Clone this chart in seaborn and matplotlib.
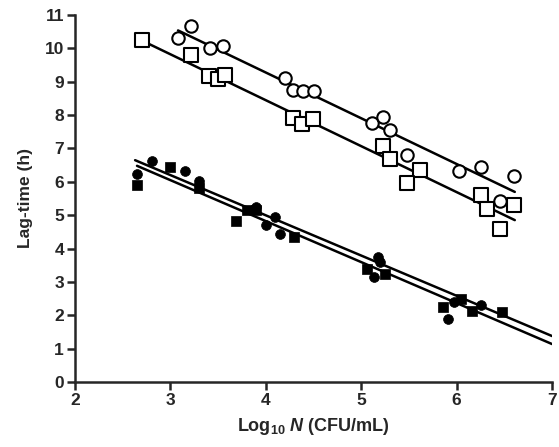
import numpy as np
import pandas as pd
import matplotlib
matplotlib.use("Agg")
import matplotlib.pyplot as plt
import seaborn as sns

# ---- data ----
open_circle_x = [3.08, 3.22, 3.41, 3.55, 4.20, 4.28, 4.39, 4.50, 5.11, 5.23, 5.30, 5.48, 6.03, 6.26, 6.60, 6.46]
open_circle_y = [10.30, 10.66, 10.02, 10.07, 9.12, 8.74, 8.72, 8.72, 7.75, 7.93, 7.54, 6.80, 6.33, 6.45, 6.18, 5.42]

open_square_x = [2.70, 3.22, 3.40, 3.50, 3.57, 4.29, 4.38, 4.49, 5.23, 5.30, 5.62, 5.48, 6.26, 6.32, 6.60, 6.46]
open_square_y = [10.26, 9.79, 9.16, 9.07, 9.21, 7.90, 7.72, 7.87, 7.07, 6.67, 6.35, 5.97, 5.60, 5.18, 5.32, 4.60]

filled_circle_x = [2.65, 2.81, 3.15, 3.30, 3.90, 4.00, 4.10, 4.15, 5.18, 5.20, 5.13, 5.91, 5.97, 6.26]
filled_circle_y = [6.22, 6.62, 6.32, 6.02, 5.25, 4.70, 4.95, 4.45, 3.75, 3.60, 3.15, 1.88, 2.40, 2.31]

filled_square_x = [2.65, 3.00, 3.30, 3.69, 3.80, 3.90, 4.30, 5.06, 5.25, 5.86, 6.05, 6.16, 6.48]
filled_square_y = [5.90, 6.45, 5.80, 4.82, 5.15, 5.15, 4.35, 3.40, 3.25, 2.25, 2.50, 2.13, 2.10]

# fitted lines (open circle, open square, filled circle, filled square)
fit_slope = [-1.371, -1.377, -1.206, -1.228]
fit_intercept = [14.76, 13.954, 9.82, 9.734]
fit_x_start = [3.08, 2.70, 2.63, 2.65]
fit_x_end = [6.61, 6.61, 7.0, 7.0]

x_ticks = [2, 3, 4, 5, 6, 7]
y_ticks = list(range(0, 12))

sns.set_style("ticks")
plt.rcParams['font.family'] = ['Liberation Sans', 'DejaVu Sans']
plt.rcParams['font.weight'] = 'bold'
plt.rcParams['mathtext.fontset'] = 'custom'
plt.rcParams['mathtext.rm'] = 'Liberation Sans:bold'
plt.rcParams['mathtext.it'] = 'Liberation Sans:bold:italic'
plt.rcParams['mathtext.bf'] = 'Liberation Sans:bold'

fig = plt.figure(figsize=(5.59, 4.47), dpi=100)
ax = fig.add_axes([75/559, 1-382/447, (552-75)/559, (382-15)/447])

# regression lines
for k, b, x0, x1 in zip(fit_slope, fit_intercept, fit_x_start, fit_x_end):
    xs = np.array([x0, x1])
    sns.lineplot(x=xs, y=k*xs + b, ax=ax, color='black', lw=1.8, zorder=2)

# points
sns.scatterplot(x=open_circle_x, y=open_circle_y, ax=ax, marker='o', s=80,
                facecolor='white', edgecolor='black', linewidth=1.5, zorder=3)
sns.scatterplot(x=open_square_x, y=open_square_y, ax=ax, marker='s', s=100,
                facecolor='white', edgecolor='black', linewidth=1.5, zorder=3)
sns.scatterplot(x=filled_circle_x, y=filled_circle_y, ax=ax, marker='o', s=50,
                color='black', edgecolor='black', linewidth=0.5, zorder=3)
sns.scatterplot(x=filled_square_x, y=filled_square_y, ax=ax, marker='s', s=60,
                color='black', edgecolor='black', linewidth=0.5, zorder=3)

ax.set_xlim(2, 7)
ax.set_ylim(0, 11)
ax.set_xticks(x_ticks)
ax.set_yticks(y_ticks)
ax.tick_params(axis='both', width=1.8, length=6, direction='out', labelsize=12.5, pad=2)
for lab in ax.get_xticklabels() + ax.get_yticklabels():
    lab.set_fontweight('bold')
for side in ['top', 'right']:
    ax.spines[side].set_visible(False)
for side in ['left', 'bottom']:
    ax.spines[side].set_linewidth(1.8)
ax.set_xlabel(r'Log$_{10}$ $\mathit{N}$ (CFU/mL)', fontsize=13, fontweight='bold', labelpad=6)
ax.set_ylabel('Lag-time (h)', fontsize=12.5, fontweight='bold', labelpad=8)
ax.patch.set_alpha(0)
for art in ax.collections:
    art.set_clip_on(False)

fig.savefig('out.png', dpi=100)
